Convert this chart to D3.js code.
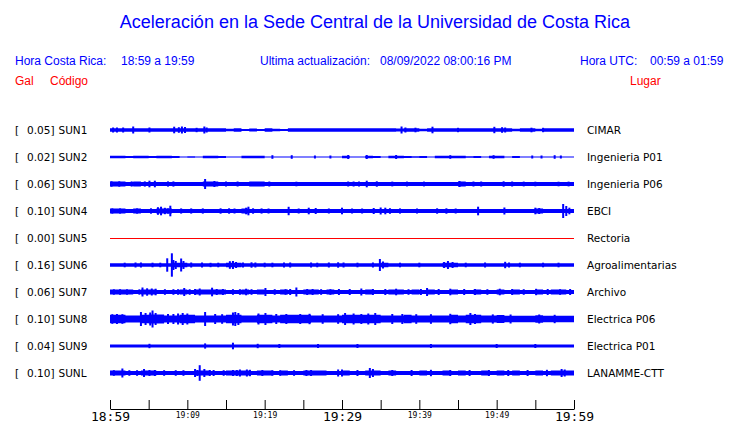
<!DOCTYPE html>
<html><head><meta charset="utf-8">
<script src="https://cdn.jsdelivr.net/npm/d3@7"></script>
<style>body{margin:0;background:#fff}svg{display:block}</style>
</head><body><svg id="c" width="740" height="423"></svg>
<script>
// ---------- data ----------
const stations = ["SUN1","SUN2","SUN3","SUN4","SUN5","SUN6","SUN7","SUN8","SUN9","SUNL"];
const places = ["CIMAR","Ingenieria P01","Ingenieria P06","EBCI","Rectoria","Agroalimentarias","Archivo","Electrica P06","Electrica P01","LANAMME-CTT"];
const peakGal = [0.05,0.02,0.06,0.10,0.00,0.16,0.06,0.10,0.04,0.10];
const minutes = [0,5,10,15,20,25,30,35,40,45,50,55,60];
const tickLabels = ["18:59","","19:09","","19:19","","19:29","","19:39","","19:49","","19:59"];

// per-minute envelope half-amplitude of each trace (60 minutes)
const env1 = [1.7,1.7,1.7,1.7,1.7,1.7,1.7,1.7,1.7,1.7,1.7,1.7,1.7,1.7,1.7,1.2,1.7,1.0,1.4,1.0,1.7,1.2,1.0,1.7,1.7,1.7,1.7,1.7,1.7,1.7,1.7,1.7,1.7,1.7,1.7,1.7,1.7,1.5,1.7,1.7,1.2,1.7,1.7,1.7,1.7,1.7,1.7,1.7,1.7,1.7,1.7,1.7,1.2,1.7,1.7,1.2,1.7,1.7,1.7,1.7];
const env2 = [1.2,1.2,1.0,1.2,1.2,1.0,1.2,1.2,1.0,0.6,0.8,0.6,1.3,1.3,1.0,0.6,0.6,1.3,1.3,1.2,0.6,0.6,0.6,0.6,0.6,0.6,0.6,0.6,0.6,0.6,1.2,0.6,0.6,1.2,0.9,0.6,1.3,1.3,1.0,0.8,1.0,0.6,1.3,1.3,1.3,1.2,0.8,1.0,0.6,1.2,1.2,0.6,1.0,0.6,0.6,0.6,0.6,0.6,0.6,0.6];
const env3 = [2.4,2.4,1.9,2.4,1.9,1.9,1.9,1.9,1.9,1.9,1.9,1.9,2.4,2.4,1.9,1.9,1.9,1.9,2.4,2.4,1.9,1.9,1.9,1.9,1.9,1.9,1.9,1.9,1.9,1.9,1.9,1.9,1.9,1.9,1.9,1.9,1.9,1.9,1.9,1.9,1.9,1.9,1.9,1.9,1.9,2.5,1.9,1.9,1.9,1.9,1.9,1.9,1.9,1.9,1.9,1.9,1.9,1.9,1.9,1.9];
const env4 = [2.4,2.4,1.9,2.4,1.9,1.9,2.4,2.4,1.9,1.9,1.9,1.9,1.9,1.9,1.9,1.9,1.9,2.4,1.9,1.9,1.9,1.9,1.9,1.9,1.9,1.9,1.9,1.9,1.9,1.9,1.9,1.9,1.9,1.9,1.9,1.9,1.9,1.9,1.9,1.9,1.9,1.9,1.9,1.9,1.9,1.9,1.9,1.9,1.9,1.9,1.9,1.9,1.9,1.9,1.9,2.4,1.9,1.9,1.9,1.9];
const env5 = [0,0,0,0,0,0,0,0,0,0,0,0,0,0,0,0,0,0,0,0,0,0,0,0,0,0,0,0,0,0,0,0,0,0,0,0,0,0,0,0,0,0,0,0,0,0,0,0,0,0,0,0,0,0,0,0,0,0,0,0];
const env6 = [1.8,1.8,1.8,1.8,1.8,1.8,1.8,1.8,2.2,2.2,1.8,1.8,1.8,1.8,1.8,2.2,2.2,1.8,1.8,1.8,1.8,1.8,1.8,1.8,1.8,1.8,1.8,1.8,1.8,1.8,1.8,1.8,1.8,1.8,1.8,2.2,1.8,1.8,1.8,1.8,1.8,1.8,1.8,2.2,2.2,1.8,1.8,1.8,1.8,1.8,1.8,1.8,1.8,1.8,1.8,1.8,1.8,1.8,1.8,1.8];
const env7 = [2.4,2.4,2.4,2.0,2.4,2.4,2.0,2.0,2.0,2.4,2.0,2.4,2.4,2.4,2.4,2.0,2.0,2.4,2.0,2.4,2.0,2.0,2.4,2.0,2.0,2.4,2.4,2.0,2.4,2.0,2.0,2.0,2.0,2.4,2.0,2.0,2.4,2.4,2.0,2.4,2.0,2.4,2.0,2.0,2.4,2.0,2.0,2.4,2.0,2.0,2.4,2.0,2.4,2.0,2.0,2.4,2.0,2.4,2.4,2.0];
const env8 = [4.3,4.3,3.6,3.6,4.3,4.5,4.5,3.6,3.6,4.3,4.3,3.6,3.6,3.6,3.6,4.3,4.3,3.6,3.6,4.3,4.3,3.6,4.2,4.2,4.2,4.2,3.6,3.6,3.6,3.6,4.3,4.3,4.3,4.3,4.3,3.6,3.6,3.6,4.2,3.6,3.6,3.6,3.6,3.6,4.3,3.6,4.3,4.3,3.4,3.4,4.0,3.3,3.3,3.3,3.3,3.8,3.3,3.3,3.3,3.3];
const env9 = [1.6,1.6,1.6,1.6,1.6,1.6,1.6,1.6,1.6,1.6,1.6,1.6,1.6,1.6,1.6,1.6,1.6,1.6,1.6,1.6,1.6,1.6,1.6,1.6,1.6,1.6,1.6,1.6,1.6,1.6,1.6,1.6,1.6,1.6,1.6,1.6,1.6,1.6,1.6,1.6,1.6,1.6,1.6,1.6,1.6,1.6,1.6,1.6,1.6,1.6,1.6,1.6,1.6,1.6,1.6,1.6,1.6,1.6,1.6,1.6];
const env10 = [2.4,2.4,2.0,2.0,2.4,2.4,2.0,2.0,2.0,2.0,2.0,2.4,2.4,2.0,2.0,2.4,2.4,2.4,2.0,2.4,2.4,2.0,2.4,2.0,2.0,2.4,2.4,2.4,2.0,2.0,2.4,2.0,2.0,2.4,2.4,2.0,2.4,2.0,2.0,2.0,2.4,2.0,2.0,2.4,2.0,2.4,2.0,2.0,2.4,2.0,2.4,2.0,2.4,2.0,2.0,2.4,2.0,2.4,2.4,2.4];

// isolated peaks: [minute, half-amplitude]
const spikes1 = [[0.4,2.5],[0.9,2.5],[1.7,2.5],[3.0,3.5],[5.1,2.5],[8.3,3.3],[8.9,2.8],[9.3,3.5],[9.7,3.0],[11.2,2.2],[12.2,3.5],[12.5,2.5],[37.7,3.5],[38.2,2.5],[39.5,2.3],[41.7,3.3],[45,2.2],[49.7,3.2],[50.7,2.8],[51.1,2.5],[54.5,2.3],[56,2.2]];
const spikes2 = [[21,1.8],[23.5,1.8],[26.5,1.5],[28.5,1.5],[30.8,2],[33.2,2],[37,2],[44,1.8],[49.6,1.8],[54.6,1.5],[55.8,1.5],[57.5,1.8],[58.3,1.5]];
const spikes3 = [[0.2,2.7],[1.2,2.7],[2.8,2.6],[4.5,2.6],[5.1,3.3],[5.8,3.3],[7.5,2.6],[8.2,2.6],[12.3,5.0],[13.5,3.0],[15,2.5],[16.5,2.5],[20.6,2.5],[24.1,2.3],[30.8,2.5],[31.5,2.5],[32.2,2.5],[33.2,3.3],[34.5,2.7],[36.5,2.4],[38.4,2.4],[40.6,2.4],[45.2,3.0],[47,2.5],[48,2.5],[50.9,2.7],[52,2.5],[53.5,2.4],[55,2.3],[58,2.3],[59.3,2.4]];
const spikes4 = [[0.3,2.6],[1.3,2.6],[3.5,2.6],[5.3,2.7],[6.2,3.8],[6.6,4.3],[7.1,3.2],[7.5,2.6],[7.8,5.3],[9.2,2.6],[10.5,2.6],[12.0,2.6],[14.3,2.7],[15.4,2.7],[16.1,2.5],[17.6,3.3],[17.9,4.3],[18.5,2.7],[19.6,2.6],[20.5,2.5],[23.1,4.2],[24.4,2.5],[25.7,3.3],[26.6,3.0],[28.3,2.5],[30.0,3.3],[31.3,2.5],[32.6,2.5],[34.1,3.0],[35.0,3.5],[35.6,3.3],[36.2,2.8],[37.5,2.6],[39.7,2.5],[42.3,2.7],[43.5,2.7],[44.7,2.5],[47.6,4.3],[51.0,3.5],[55.0,3.3],[55.5,3.0],[58.6,7.0],[59.0,5.0],[59.4,3.3]];
const spikes5 = [];
const spikes6 = [[1.9,2.3],[3.3,2.5],[4.0,2.5],[5.5,2.3],[6.5,2.3],[7.4,6.7],[8.0,11.7],[8.2,5],[8.5,4],[9.2,6.5],[9.5,4],[10.5,2.5],[11.9,2.5],[13.0,2.2],[14.0,2.3],[15.5,3.8],[15.9,4.0],[16.3,3.0],[17.2,2.5],[18.3,2.7],[18.8,2.5],[20.0,2.3],[21.0,2.3],[22.5,2.5],[23.3,2.5],[26.0,2.5],[26.8,2.3],[28.3,2.5],[29.5,2.7],[30.2,2.5],[32,2.3],[34.0,2.5],[34.9,6.0],[35.3,3.5],[37.5,2.3],[40,2.3],[43.2,3.0],[43.7,4.0],[44.3,3.0],[46,2.3],[48.5,2.5],[51.1,3.2],[51.6,2.5],[53,2.3],[56,2.3],[58,2.3]];
const spikes7 = [[0.5,2.7],[1.3,2.8],[2.2,2.7],[3.8,2.7],[4.2,4.5],[4.8,3.7],[5.4,3.5],[5.9,3.3],[7.1,2.8],[8.2,2.8],[8.8,2.8],[9.6,4.0],[10.3,2.8],[11.0,3.0],[11.6,3.5],[13.2,4.3],[13.8,3.0],[14.6,3.0],[15.9,2.8],[16.8,2.8],[17.6,3.3],[18.3,2.8],[20.1,4.0],[21.3,2.8],[22.7,2.8],[23.3,3.0],[24.1,4.5],[25.5,3.0],[26.2,3.0],[27.3,2.8],[28.5,2.8],[29.6,3.0],[31,3.0],[32.5,3.5],[34,3.0],[35.6,3.0],[37,3.3],[38.6,2.8],[40.2,3.0],[41,4.0],[42.5,3.0],[44,3.3],[45.8,3.0],[47.2,3.0],[48.8,2.8],[50.4,3.3],[52,3.0],[53.5,2.8],[55.1,3.2],[56.6,3.0],[58.2,2.8],[59.5,3.0]];
const spikes8 = [[0.3,4.8],[0.9,5.0],[1.6,4.8],[4.0,7.0],[4.6,6.0],[5.2,6.5],[5.5,8.5],[5.9,6.0],[7.5,5.0],[8.2,5.0],[8.8,5.5],[9.4,6.0],[10.0,5.5],[12.3,7.0],[13.6,5.0],[14.5,4.8],[15.9,6.5],[16.2,7.0],[16.6,6.0],[19.2,5.5],[20.1,6.0],[21.5,5.0],[22.8,5.0],[24.6,5.0],[25.8,5.2],[27.5,4.8],[29.5,4.8],[30.4,6.0],[31.5,5.5],[32.5,5.0],[33.4,5.5],[34.3,6.0],[36.5,5.0],[37.8,5.0],[39.6,4.8],[41.5,4.8],[44.0,5.2],[46.6,6.0],[47.2,5.0],[49.5,4.6],[51.8,4.5],[55.5,4.5],[57.5,4.2]];
const spikes9 = [[5.1,2.2],[12.3,2.6],[15.9,3.3],[19.1,2.2],[21.9,2.0],[26.9,2.0],[32,2.0],[41.5,2.0],[50,2.0],[55,2.0]];
const spikes10 = [[0.5,2.8],[1.6,4.5],[2.5,2.8],[3.5,2.8],[4.4,4.0],[5.1,3.0],[5.8,3.0],[7.0,2.8],[8.5,2.8],[9.5,2.8],[11.0,4.0],[11.3,3.0],[11.6,7.8],[12.2,4.0],[12.9,3.0],[13.4,3.0],[14.7,2.8],[15.9,3.0],[16.4,3.0],[16.8,3.5],[17.7,3.5],[18.1,3.2],[19.7,3.0],[21,2.8],[22,2.8],[23.8,2.8],[25.4,3.0],[26.0,3.0],[29.5,3.5],[30,3.5],[32,3.0],[33.6,5.0],[34.0,4.0],[36.5,3.0],[39,3.0],[41.5,3.2],[44,3.0],[46.5,3.0],[49,3.0],[51.5,3.0],[54,3.0],[56.5,3.2],[58.4,4.0],[58.8,3.5]];

const envs = [env1,env2,env3,env4,env5,env6,env7,env8,env9,env10];
const spikes = [spikes1,spikes2,spikes3,spikes4,spikes5,spikes6,spikes7,spikes8,spikes9,spikes10];

// ---------- drawing ----------
const svg = d3.select("#c");
const BLUE = "#0000ff", RED = "#ff0000";
const x = d3.scaleLinear().domain([0,60]).range([110,574]);
const yRow = d3.scalePoint().domain(stations).range([130,373]);
const amp = d3.scaleLinear().domain([-13.5,13.5]).range([13.5,-13.5]);

svg.append("text").attr("x",375).attr("y",28).attr("text-anchor","middle")
  .style("font-family","Liberation Sans, Arial, sans-serif").style("font-size","18px").attr("fill",BLUE)
  .text("Aceleración en la Sede Central de la Universidad de Costa Rica");

const hdr = [
  {t:"Hora Costa Rica:", x:15, y:65, c:BLUE},
  {t:"18:59 a 19:59", x:121, y:65, c:BLUE},
  {t:"Ultima actualización:", x:260, y:65, c:BLUE},
  {t:"08/09/2022 08:00:16 PM", x:380, y:65, c:BLUE},
  {t:"Hora UTC:", x:580, y:65, c:BLUE},
  {t:"00:59 a 01:59", x:650, y:65, c:BLUE},
  {t:"Gal", x:15, y:85, c:RED},
  {t:"Código", x:50, y:85, c:RED},
  {t:"Lugar", x:630, y:85, c:RED}
];
svg.selectAll("text.h").data(hdr).join("text").attr("class","h")
  .attr("x",d=>d.x).attr("y",d=>d.y).attr("fill",d=>d.c)
  .style("font-family","Liberation Sans, Arial, sans-serif").style("font-size","12px")
  .text(d=>d.t);

const lblFont = "DejaVu Sans, sans-serif";
const rows = svg.selectAll("g.row").data(stations).join("g").attr("class","row")
  .attr("transform",d=>`translate(0,${yRow(d)})`);

rows.append("text").attr("x",15).attr("y",4).text("[")
  .style("font-family",lblFont).style("font-size","10.5px");
rows.append("text").attr("x",54.5).attr("y",4).attr("text-anchor","end")
  .text((d,i)=>peakGal[i].toFixed(2)+"]")
  .style("font-family",lblFont).style("font-size","10.5px");
rows.append("text").attr("x",58.5).attr("y",4).text(d=>d)
  .style("font-family",lblFont).style("font-size","10.5px");
rows.append("text").attr("x",587).attr("y",4).text((d,i)=>places[i])
  .style("font-family",lblFont).style("font-size","10.5px");

const area = d3.area().curve(d3.curveStepAfter)
  .x(d=>x(d[0])).y0(d=>amp(-d[1])).y1(d=>amp(d[1]));

rows.each(function(d,i){
  const g = d3.select(this);
  const e = envs[i];
  if (peakGal[i] === 0) {
    g.append("line").attr("x1",x(0)).attr("x2",x(60)).attr("y1",0.5).attr("y2",0.5)
      .attr("stroke",RED).attr("stroke-width",1);
    return;
  }
  const pts = e.map((v,k)=>[k,v]); pts.push([60,e[e.length-1]]);
  g.append("path").attr("d",area(pts)).attr("fill",BLUE);
  g.selectAll("rect.sp").data(spikes[i]).join("rect").attr("class","sp")
    .attr("x",s=>x(s[0])-1).attr("width",2)
    .attr("y",s=>amp(s[1])).attr("height",s=>amp(-s[1])-amp(s[1]))
    .attr("fill",BLUE);
});

const axis = d3.axisBottom(x).tickValues(minutes).tickSize(-9).tickSizeOuter(0)
  .tickFormat((m,i)=>tickLabels[i]);
const ax = svg.append("g").attr("transform","translate(0,409)").call(axis);
ax.select(".domain").attr("stroke","#000");
ax.selectAll(".tick line").attr("stroke","#000");
ax.selectAll(".tick text").attr("fill","#000")
  .style("font-family","DejaVu Sans Mono, monospace")
  .style("font-size",m=>m%30===0?"13px":"8px");
</script></body></html>
